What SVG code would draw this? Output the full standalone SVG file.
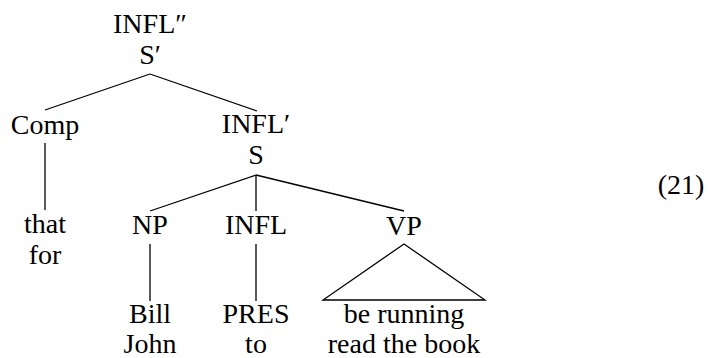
<svg xmlns="http://www.w3.org/2000/svg" width="708" height="358" viewBox="0 0 708 358">
<rect width="708" height="358" fill="#fff"/>
<g id="connectors" stroke="#000" stroke-width="1.3" fill="none">
<line x1="150" y1="74" x2="45" y2="110"/>
<line x1="150" y1="74" x2="257" y2="111"/>
<line x1="45" y1="143" x2="45" y2="210"/>
<line x1="256" y1="175" x2="150" y2="211"/>
<line x1="256" y1="175" x2="256" y2="211"/>
<line x1="256" y1="175" x2="404" y2="211"/>
<line x1="150" y1="244" x2="150" y2="301"/>
<line x1="256" y1="244" x2="256" y2="301"/>
<polygon points="404,244 323,300 485,300"/>
</g>
<g id="root"><text x="150" y="33" font-family="Liberation Serif" font-size="28" text-anchor="middle">INFL&#8243;</text><text x="150" y="64" font-family="Liberation Serif" font-size="28" text-anchor="middle">S&#8242;</text></g>
<g id="comp"><text x="45" y="134" font-family="Liberation Serif" font-size="28" text-anchor="middle">Comp</text></g>
<g id="inflbar"><text x="256" y="133" font-family="Liberation Serif" font-size="28" text-anchor="middle">INFL&#8242;</text><text x="256" y="164" font-family="Liberation Serif" font-size="28" text-anchor="middle">S</text></g>
<g id="thatfor"><text x="45" y="233" font-family="Liberation Serif" font-size="28" text-anchor="middle">that</text><text x="45" y="264" font-family="Liberation Serif" font-size="28" text-anchor="middle">for</text></g>
<g id="np"><text x="150" y="234" font-family="Liberation Serif" font-size="28" text-anchor="middle">NP</text></g>
<g id="infl"><text x="256" y="234" font-family="Liberation Serif" font-size="28" text-anchor="middle">INFL</text></g>
<g id="vp"><text x="404" y="235" font-family="Liberation Serif" font-size="28" text-anchor="middle">VP</text></g>
<g id="billjohn"><text x="150" y="323" font-family="Liberation Serif" font-size="28" text-anchor="middle">Bill</text><text x="150" y="353" font-family="Liberation Serif" font-size="28" text-anchor="middle">John</text></g>
<g id="presto"><text x="256" y="323" font-family="Liberation Serif" font-size="28" text-anchor="middle">PRES</text><text x="256" y="353" font-family="Liberation Serif" font-size="28" text-anchor="middle">to</text></g>
<g id="vpwords"><text x="404" y="323" font-family="Liberation Serif" font-size="28" text-anchor="middle">be running</text><text x="404" y="353" font-family="Liberation Serif" font-size="28" text-anchor="middle">read the book</text></g>
<g id="num"><text x="681" y="194" font-family="Liberation Serif" font-size="28" text-anchor="middle">(21)</text></g>
</svg>
